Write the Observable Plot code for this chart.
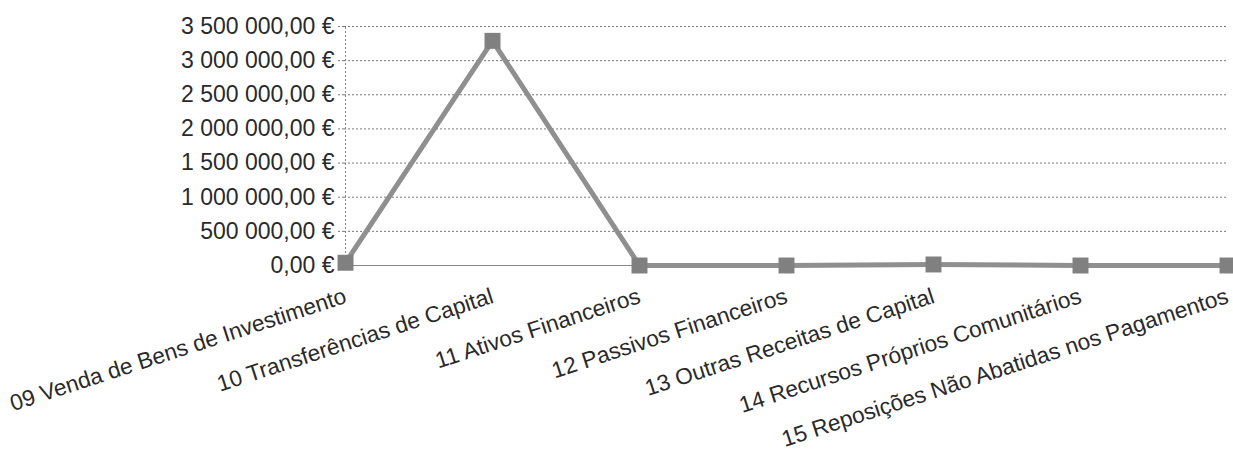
<!DOCTYPE html>
<html>
<head>
<meta charset="utf-8">
<script src="https://cdn.jsdelivr.net/npm/d3@7"></script>
<script src="https://cdn.jsdelivr.net/npm/@observablehq/plot@0.6"></script>
<style>
  html, body { margin: 0; padding: 0; background: #fff; }
  #chart { width: 1233px; height: 454px; }
</style>
</head>
<body>
<div id="chart"></div>
<script>
const categories = [
  "09 Venda de Bens de Investimento",
  "10 Transferências de Capital",
  "11 Ativos Financeiros",
  "12 Passivos Financeiros",
  "13 Outras Receitas de Capital",
  "14 Recursos Próprios Comunitários",
  "15 Reposições Não Abatidas nos Pagamentos"
];
const values = [40000, 3290000, 0, 0, 15000, 0, 0];
const yTicks = [0, 500000, 1000000, 1500000, 2000000, 2500000, 3000000, 3500000];

const data = categories.map((c, i) => ({category: c, value: values[i]}));

const locale = d3.formatLocale({decimal: ",", thousands: "\u00a0", grouping: [3], currency: ["", "\u00a0€"]});
const fmt = locale.format("$,.2f");

const chart = Plot.plot({
  width: 1233,
  height: 454,
  marginLeft: 344,
  marginRight: 6,
  marginTop: 26,
  marginBottom: 189,
  style: {fontFamily: "'Liberation Sans', Arial, sans-serif", color: "#2a2a2a", background: "#fff"},
  x: {type: "point", domain: categories, padding: 0},
  y: {domain: [0, 3500000]},
  marks: [
    Plot.gridY(yTicks, {stroke: "#777", strokeOpacity: 1, strokeDasharray: "2,2", strokeWidth: 1}),
    Plot.ruleX([categories[0]], {stroke: "#888", strokeDasharray: "2,2", y1: 0, y2: 3500000}),
    Plot.ruleY([0], {stroke: "#888", strokeWidth: 1.2}),
    Plot.axisY({ticks: yTicks, tickFormat: fmt, tickSize: 8, tickPadding: 2, stroke: "#777", strokeDasharray: "2,2", fontSize: 23, label: null}),
    Plot.axisX({tickRotate: -18, tickSize: 0, tickPadding: 30, fontSize: 22.7, label: null}),
    Plot.line(data, {x: "category", y: "value", stroke: "#8f8f8f", strokeWidth: 5}),
    Plot.dot(data, {x: "category", y: "value", symbol: "square", r: 9, fill: "#808080", stroke: "none"})
  ]
});
document.getElementById("chart").append(chart);
</script>
</body>
</html>
